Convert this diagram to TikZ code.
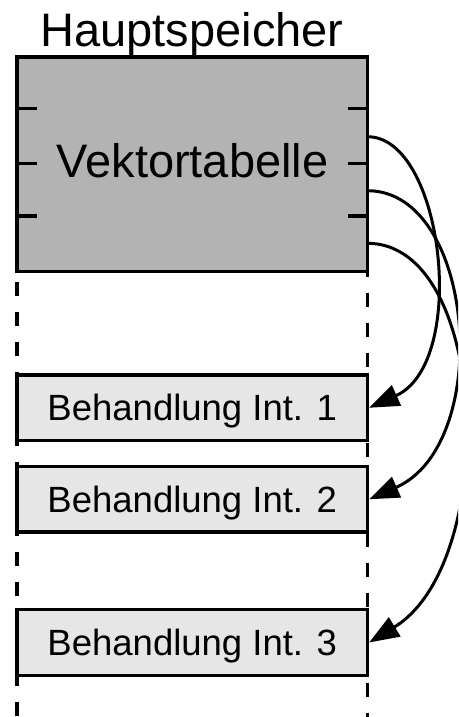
\documentclass[tikz,border=0pt]{standalone}
\usepackage{fontspec}
\setmainfont{Liberation Sans}
\usetikzlibrary{arrows.meta}
\definecolor{memgray}{RGB}{179,179,179}
\definecolor{boxgray}{RGB}{230,230,230}
\begin{document}
\begin{tikzpicture}[x=1pt,y=-1pt,
  mainbox/.style={draw, line width=3.3pt, fill=memgray, inner sep=0pt,
    minimum width=350.5pt, minimum height=214.7pt},
  handler/.style={draw, line width=3.3pt, fill=boxgray, inner sep=0pt,
    minimum width=350.5pt, minimum height=65.5pt,
    text height=26pt, text depth=0pt, font=\fontsize{36.5}{40}\selectfont},
  bigtext/.style={inner sep=0pt, anchor=base, font=\fontsize{47}{52}\selectfont},
  tick/.style={line width=3.3pt},
  dashline/.style={line width=3.3pt, dash pattern=on 14pt off 16pt},
  conn/.style={line width=3pt, -{Triangle[length=30pt,width=22pt]}}]
\useasboundingbox (0,0) rectangle (458,717);
\clip (0,0) rectangle (458,717);
% dashed memory borders
\coordinate (lt) at (17,271.7);
\coordinate (lb) at (17,720);
\coordinate (rt) at (367.5,271.7);
\coordinate (rb) at (367.5,720);
\draw[dashline, dash phase=20pt] (lt) -- (lb);
\draw[dashline, dash phase=9pt] (rt) -- (rb);
% main memory block
\node[mainbox] (vt) at (192.25,164.35) {};
\node[bigtext] (hs) at (192,46.7) {Hauptspeicher};
\node[bigtext] (vtl) at (192.5,177) {Vektortabelle};
% ticks
\foreach \yy/\nm in {108.3/a,163.3/b,216/c}{
  \coordinate (tl\nm) at (17,\yy);
  \coordinate (tli\nm) at (37,\yy);
  \coordinate (tr\nm) at (367.5,\yy);
  \coordinate (tri\nm) at (348,\yy);
  \draw[tick] (tl\nm) -- (tli\nm);
  \draw[tick] (tr\nm) -- (tri\nm);
}
% handler boxes
\node[handler] (b1) at (192.25,407.75) {Behandlung Int. 1};
\node[handler] (b2) at (192.25,499.25) {Behandlung Int. 2};
\node[handler] (b3) at (192.25,642.5) {Behandlung Int. 3};
% vector entries
\coordinate (c1) at (367.5,136.7);
\coordinate (c2) at (367.5,190.7);
\coordinate (c3) at (367.5,243.3);
\draw[conn] (c1) .. controls +(76,0) and +(100,-45) .. (b1.east);
\draw[conn] (c2) .. controls +(108,0) and +(125,-55) .. (b2.east);
\draw[conn] (c3) .. controls +(122,0) and +(131,-80) .. (b3.east);
\end{tikzpicture}
\end{document}
